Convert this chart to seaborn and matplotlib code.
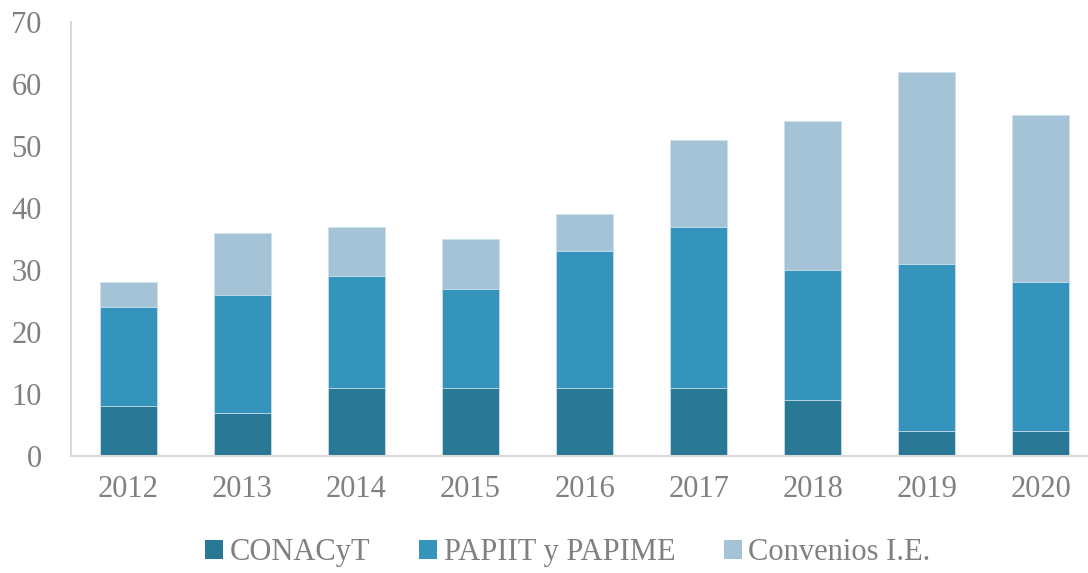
import matplotlib
matplotlib.use("Agg")
import matplotlib.pyplot as plt
import seaborn as sns
import pandas as pd
from matplotlib.patches import Patch

# data
years = ["2012", "2013", "2014", "2015", "2016", "2017", "2018", "2019", "2020"]
conacyt = [8, 7, 11, 11, 11, 11, 9, 4, 4]
papiit = [16, 19, 18, 16, 22, 26, 21, 27, 24]
convenios = [4, 10, 8, 8, 6, 14, 24, 31, 27]

series_names = ["CONACyT", "PAPIIT y PAPIME", "Convenios I.E."]
colors = ["#297896", "#3594bc", "#a5c3d7"]
gray = "#808080"

sns.set_style("white")
plt.rcParams["font.family"] = ["Liberation Serif", "DejaVu Serif"]

df = pd.DataFrame({"year": years, "c1": conacyt, "c2": papiit, "c3": convenios})
df["cum1"] = df["c1"]
df["cum2"] = df["c1"] + df["c2"]
df["cum3"] = df["cum2"] + df["c3"]

fig = plt.figure(figsize=(10.88, 5.73), dpi=100)
ax = fig.add_axes([71 / 1088, 117 / 573, 1027 / 1088, 434 / 573])

# stack by drawing cumulative totals back to front
for col, color in zip(["cum3", "cum2", "cum1"], colors[::-1]):
    sns.barplot(data=df, x="year", y=col, color=color, width=0.5,
                edgecolor="#cfe0ea", linewidth=0.6, saturation=1, ax=ax)

ax.set_ylim(0, 70)
ax.set_yticks(range(0, 71, 10))
ax.set_xlim(-0.5, 8.5)
ax.set_xlabel("")
ax.set_ylabel("")
ax.tick_params(axis="both", length=0, labelsize=22, labelcolor=gray)
ax.tick_params(axis="y", pad=21)
ax.tick_params(axis="x", pad=14)

for side in ["top", "right"]:
    ax.spines[side].set_visible(False)
for side in ["left", "bottom"]:
    ax.spines[side].set_color("#d9d9d9")
    ax.spines[side].set_linewidth(1.5)

handles = [Patch(facecolor=c, edgecolor="none", label=n) for c, n in zip(colors, series_names)]
fig.legend(handles=handles, loc="center", bbox_to_anchor=(0.522, 0.035), ncol=3,
           frameon=False, fontsize=22, labelcolor=gray, handlelength=0.6,
           handleheight=0.6, handletextpad=0.2, columnspacing=1.6)

fig.savefig("out.png", dpi=100)
